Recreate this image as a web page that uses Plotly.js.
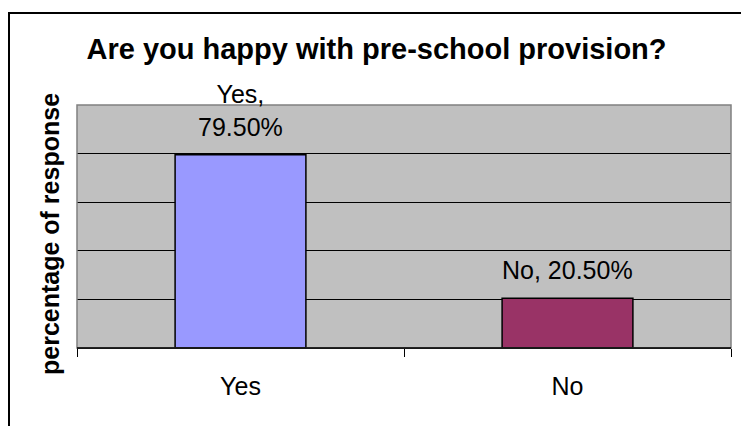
<!DOCTYPE html>
<html>
<head>
<meta charset="utf-8">
<script src="https://cdn.plot.ly/plotly-3.0.1.min.js"></script>
<style>
html,body{margin:0;padding:0;background:#fff;}
#chart{width:741px;height:426px;}
</style>
</head>
<body>
<div id="chart"></div>
<script>
const categories = ["Yes", "No"];
const values = [79.5, 20.5];
const barColors = ["#9999FF", "#993366"];
const dataLabels = ["Yes,<br>79.50%", "No, 20.50%"];
const chartTitle = "Are you happy with pre-school provision?";
const yTitle = "percentage of response";

const FONT = "Liberation Sans, Arial, sans-serif";

const trace = {
  type: "bar",
  x: categories,
  y: values,
  marker: {color: barColors, line: {color: "#000000", width: 1.5}},
  hoverinfo: "none"
};

const annotations = categories.map((c, i) => ({
  x: c, y: values[i], xref: "x", yref: "y",
  text: dataLabels[i], showarrow: false,
  xanchor: "center", yanchor: "bottom", yshift: 12,
  font: {family: FONT, size: 25, color: "#000"}
}));

annotations.push({
  text: yTitle, textangle: -90, showarrow: false,
  xref: "paper", yref: "paper",
  x: (50 - 77) / 654, y: 1 - (234 - 105) / 243,
  xanchor: "center", yanchor: "middle",
  font: {family: FONT, size: 25, color: "#000", weight: "bold"}
});

const layout = {
  width: 741, height: 426,
  margin: {l: 77, r: 10, t: 105, b: 78, pad: 0},
  paper_bgcolor: "#ffffff",
  plot_bgcolor: "#C0C0C0",
  showlegend: false,
  bargap: 0.6,
  title: {
    text: "<b>" + chartTitle + "</b>",
    font: {family: FONT, size: 29, color: "#000"},
    xref: "paper", x: (376.5 - 77) / 654, xanchor: "center",
    yref: "container", y: 1 - 49 / 426, yanchor: "middle"
  },
  xaxis: {
    type: "category",
    showline: true, linecolor: "#000", linewidth: 1,
    ticks: "outside", tickson: "boundaries", ticklen: 8, tickcolor: "#000", tickwidth: 1,
    ticklabelstandoff: 16,
    showgrid: false, zeroline: false,
    tickfont: {family: FONT, size: 25, color: "#000"},
    fixedrange: true
  },
  yaxis: {
    range: [0, 100], dtick: 20, tick0: 0,
    showticklabels: false, ticks: "",
    showgrid: true, gridcolor: "#000", gridwidth: 1,
    zeroline: false, showline: false,
    fixedrange: true
  },
  annotations: annotations,
  shapes: [
    {type: "rect", xref: "paper", yref: "paper", x0: 0, x1: 1, y0: 0, y1: 1,
     line: {color: "#808080", width: 1.5}, fillcolor: "rgba(0,0,0,0)", layer: "above"},
    {type: "line", xref: "paper", yref: "paper", x0: 0, x1: 1, y0: 0, y1: 0,
     line: {color: "#000", width: 1.5}, layer: "above"},
    {type: "line", xref: "paper", yref: "paper",
     x0: (9 - 77) / 654, x1: (9 - 77) / 654, y0: -1, y1: 1 + (105 - 13) / 243,
     line: {color: "#000", width: 2}},
    {type: "line", xref: "paper", yref: "paper",
     x0: (8 - 77) / 654, x1: 2, y0: 1 + (105 - 13) / 243, y1: 1 + (105 - 13) / 243,
     line: {color: "#000", width: 2}}
  ]
};

Plotly.newPlot("chart", [trace], layout, {displayModeBar: false, staticPlot: true});
</script>
</body>
</html>
